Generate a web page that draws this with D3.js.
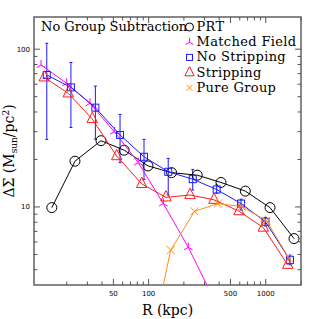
<!DOCTYPE html>
<html>
<head>
<meta charset="utf-8">
<script src="https://cdn.jsdelivr.net/npm/d3@7"></script>
<style>
  body { margin: 0; background: #fff; }
  text { font-family: 'DejaVu Serif', serif; }
</style>
</head>
<body>
<div id="chart"></div>
<script>
// radii (kpc) and Delta Sigma (Msun/pc^2)
const prtR = [14.9, 23.5, 39.2, 61.8, 98.8, 157, 260, 415, 669, 1088, 1743];
const prtDS = [9.9, 19.5, 26.3, 22.9, 18.2, 16.5, 15.9, 14.3, 12.6, 9.9, 6.3];

const fieldR = [12.05, 19.97, 31.6, 50.9, 81.6, 133.5, 218, 352];
const fieldDS = [79.4, 60.8, 45.4, 30.0, 19.1, 10.5, 5.55, 2.7];

const noStripR = [13.5, 21.7, 35.1, 57.0, 91.3, 147, 238, 381, 615, 995, 1610];
const noStripDS = [68.6, 57.3, 42.6, 28.6, 20.8, 16.7, 15.0, 12.9, 10.5, 8.06, 4.6];
const noStripHi = [109, 82.3, 58.4, 38.6, 26.8, 20.3, 17.3, 13.8, 11.2, 8.6, 4.95];
const noStripLo = [26.8, 31.9, 26.9, 19.1, 14.9, 11.9, 12.8, 12.2, 9.56, 7.57, 4.3];

const stripR = [12.86, 20.6, 33.0, 53.4, 87.3, 140.7, 225.6, 361.5, 591, 953, 1540];
const stripDS = [66.3, 52.5, 36.1, 21.0, 14.0, 11.5, 11.9, 11.1, 9.4, 7.4, 4.3];

const groupR = [95.9, 154.3, 246.5, 389.6, 623.5, 1015, 1585];
const groupDS = [1.0, 5.33, 9.38, 10.5, 10.06, 8.18, 4.71];

const xTickLabels = [50, 100, 500, 1000];
const yTickLabels = [10, 100];

const legendNames = ['PRT', 'Matched Field', 'No Stripping', 'Stripping', 'Pure Group'];

let width = 319, height = 319;
let mLeft = 34, mRight = 301, mTop = 17, mBottom = 285;

let x = d3.scaleLog().domain([10.5, 2000]).range([mLeft, mRight]);
let y = d3.scaleLog().domain([3.2, 160]).range([mBottom, mTop]);

let svg = d3.select('#chart').append('svg')
  .attr('width', width)
  .attr('height', height);

svg.append('defs').append('clipPath').attr('id', 'plot')
  .append('rect')
    .attr('x', mLeft).attr('y', mTop)
    .attr('width', mRight - mLeft).attr('height', mBottom - mTop);

// minor + major ticks on all four sides
let xTicks = [];
[10, 100, 1000].forEach(d => { for (let k = 1; k < 10; k++) xTicks.push(d * k); });
xTicks = xTicks.filter(v => v >= 10.5 && v <= 2000);
let yTicks = [];
[1, 10, 100].forEach(d => { for (let k = 1; k < 10; k++) yTicks.push(d * k); });
yTicks = yTicks.filter(v => v >= 3.2 && v <= 160);

let axisG = svg.append('g').attr('stroke', '#555').attr('stroke-width', 1);
let xLen = v => xTickLabels.includes(v) ? 6 : 3.5;
let yLen = v => yTickLabels.includes(v) ? 6 : 3.5;

axisG.selectAll('.xb').data(xTicks).join('line')
  .attr('x1', d => x(d)).attr('x2', d => x(d))
  .attr('y1', mBottom).attr('y2', d => mBottom - xLen(d));
axisG.selectAll('.xt').data(xTicks).join('line')
  .attr('x1', d => x(d)).attr('x2', d => x(d))
  .attr('y1', mTop).attr('y2', d => mTop + xLen(d));
axisG.selectAll('.yl').data(yTicks).join('line')
  .attr('y1', d => y(d)).attr('y2', d => y(d))
  .attr('x1', mLeft).attr('x2', d => mLeft + yLen(d));
axisG.selectAll('.yr').data(yTicks).join('line')
  .attr('y1', d => y(d)).attr('y2', d => y(d))
  .attr('x1', mRight).attr('x2', d => mRight - yLen(d));

svg.append('rect')
  .attr('x', mLeft).attr('y', mTop)
  .attr('width', mRight - mLeft).attr('height', mBottom - mTop)
  .attr('fill', 'none')
  .attr('stroke', '#555')
  .attr('stroke-width', 1.4);

svg.selectAll('.xlab').data(xTickLabels).join('text')
  .attr('x', d => x(d)).attr('y', 296)
  .attr('text-anchor', 'middle')
  .style('font-family', 'DejaVu Sans, sans-serif')
  .style('font-size', '7px')
  .text(d => d);
svg.selectAll('.ylab').data(yTickLabels).join('text')
  .attr('x', 30).attr('y', d => y(d) + 2.5)
  .attr('text-anchor', 'end')
  .style('font-family', 'DejaVu Sans, sans-serif')
  .style('font-size', '7px')
  .text(d => d);

svg.append('text')
  .attr('x', (mLeft + mRight) / 2).attr('y', 315)
  .attr('text-anchor', 'middle')
  .style('font-size', '14px')
  .text('R (kpc)');

let yl = svg.append('text')
  .attr('transform', `translate(13.5,${(mTop + mBottom) / 2}) rotate(-90)`)
  .attr('text-anchor', 'middle')
  .style('font-size', '14px');
yl.append('tspan').text('ΔΣ (M');
yl.append('tspan').attr('dy', 3).style('font-size', '9px').text('sun');
yl.append('tspan').attr('dy', -3).text('/pc');
yl.append('tspan').attr('dy', -5).style('font-size', '9px').text('2');
yl.append('tspan').attr('dy', 5).text(')');

// markers
let circle = (g, cx, cy, r, c) => g.append('circle')
  .attr('cx', cx).attr('cy', cy).attr('r', r)
  .attr('fill', 'none').attr('stroke', c);
let square = (g, cx, cy, s, c) => g.append('rect')
  .attr('x', cx - s / 2).attr('y', cy - s / 2).attr('width', s).attr('height', s)
  .attr('fill', 'none').attr('stroke', c);
let tri = (g, cx, cy, s, c) => g.append('path')
  .attr('d', `M${cx},${cy - s * 0.75}L${cx + s * 0.58},${cy + s * 0.4}L${cx - s * 0.58},${cy + s * 0.4}Z`)
  .attr('fill', 'none').attr('stroke', c);
let cross = (g, cx, cy, s, c) => g.append('path')
  .attr('d', `M${cx - s},${cy - s}L${cx + s},${cy + s}M${cx - s},${cy + s}L${cx + s},${cy - s}`)
  .attr('fill', 'none').attr('stroke', c);
let ystar = (g, cx, cy, s, c) => g.append('path')
  .attr('d', `M${cx},${cy}L${cx},${cy - s}M${cx},${cy}L${cx - s * 0.87},${cy + s * 0.5}M${cx},${cy}L${cx + s * 0.87},${cy + s * 0.5}`)
  .attr('fill', 'none').attr('stroke', c);

let line = d3.line().x(d => x(d[0])).y(d => y(d[1]));
let plot = svg.append('g').attr('clip-path', 'url(#plot)');

let series = [
  { r: prtR, v: prtDS, color: '#000000', mark: (g, a, b) => circle(g, a, b, 5, '#000') },
  { r: fieldR, v: fieldDS, color: '#ff00ff', mark: (g, a, b) => ystar(g, a, b, 5, '#ff00ff') },
  { r: noStripR, v: noStripDS, color: '#1a1aff', mark: (g, a, b) => square(g, a, b, 7, '#1a1aff') },
  { r: stripR, v: stripDS, color: '#ff1a1a', mark: (g, a, b) => tri(g, a, b, 9, '#ff1a1a') },
  { r: groupR, v: groupDS, color: '#ff8c1a', mark: (g, a, b) => cross(g, a, b, 4, '#ff8c1a') }
];

// error bars on the no-stripping profile
let eb = plot.append('g').attr('stroke', '#1a1aff').attr('stroke-width', 1);
noStripR.forEach((r, i) => {
  let px = x(r);
  eb.append('line').attr('x1', px).attr('x2', px).attr('y1', y(noStripHi[i])).attr('y2', y(noStripLo[i]));
  eb.append('line').attr('x1', px - 1.5).attr('x2', px + 1.5).attr('y1', y(noStripHi[i])).attr('y2', y(noStripHi[i]));
  eb.append('line').attr('x1', px - 1.5).attr('x2', px + 1.5).attr('y1', y(noStripLo[i])).attr('y2', y(noStripLo[i]));
});

series.forEach(s => {
  let pts = s.r.map((r, i) => [r, s.v[i]]);
  plot.append('path')
    .datum(pts)
    .attr('d', line)
    .attr('fill', 'none')
    .attr('stroke', s.color)
    .attr('stroke-width', 1);
  pts.forEach(p => s.mark(plot, x(p[0]), y(p[1])));
});

svg.append('text')
  .attr('x', 41).attr('y', 31)
  .style('font-size', '13px')
  .text('No Group Subtraction');

// legend
let leg = svg.append('g');
let legMarks = [
  (g, a, b) => circle(g, a, b, 4, '#000'),
  (g, a, b) => ystar(g, a, b, 4.5, '#ff00ff'),
  (g, a, b) => square(g, a, b, 6, '#1a1aff'),
  (g, a, b) => tri(g, a, b, 8, '#ff1a1a'),
  (g, a, b) => cross(g, a, b, 3, '#ff8c1a')
];
legendNames.forEach((name, i) => {
  let yy = 31 + i * 15.2;
  legMarks[i](leg, 189.5, yy - 4);
  leg.append('text')
    .attr('x', 196.5).attr('y', yy)
    .style('font-size', '13px')
    .style('letter-spacing', '0.35px')
    .text(name);
});
</script>
</body>
</html>
